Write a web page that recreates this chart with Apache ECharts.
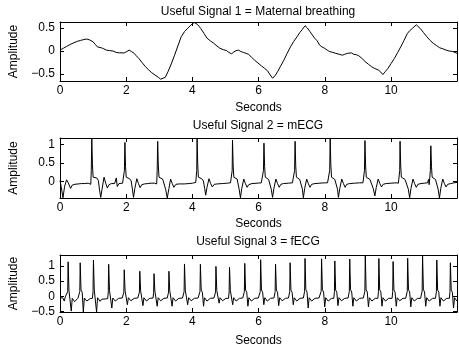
<!DOCTYPE html>
<html>
<head>
<meta charset="utf-8">
<script src="https://cdn.jsdelivr.net/npm/echarts@6/dist/echarts.min.js"></script>
<style>html,body{margin:0;padding:0;background:#fff}#c{width:459px;height:348px}</style>
</head>
<body>
<div id="c"></div>
<script>
const titles = ['Useful Signal 1 = Maternal breathing', 'Useful Signal 2 = mECG', 'Useful Signal 3 = fECG'];
const xTicks = [0, 2, 4, 6, 8, 10];
const yTicks1 = [-0.5, 0, 0.5];
const yTicks2 = [0, 0.5, 1];
const yTicks3 = [-0.5, 0, 0.5, 1];
const yRange1 = [-0.65, 0.63];
const yRange2 = [-0.436, 1.168];
const yRange3 = [-0.52, 1.355];

// [seconds, amplitude]
const breathing = [
[0.00,0.02],[0.10,0.06],[0.20,0.10],[0.30,0.14],[0.42,0.18],[0.52,0.21],[0.62,0.23],[0.72,0.25],[0.81,0.26],[0.90,0.24],
[1.00,0.20],[1.07,0.14],[1.13,0.09],[1.25,0.07],[1.32,0.05],[1.40,0.02],[1.50,0.01],[1.60,0.00],[1.70,-0.03],[1.80,-0.04],
[1.94,-0.04],[2.02,-0.01],[2.09,0.02],[2.16,-0.01],[2.24,-0.05],[2.30,-0.10],[2.38,-0.16],[2.48,-0.25],[2.58,-0.34],[2.68,-0.41],
[2.77,-0.47],[2.87,-0.52],[2.97,-0.57],[3.04,-0.61],[3.09,-0.65],[3.18,-0.57],[3.26,-0.45],[3.36,-0.28],[3.46,-0.09],[3.56,0.11],
[3.66,0.31],[3.76,0.42],[3.85,0.49],[3.95,0.56],[4.05,0.62],[4.08,0.63],[4.15,0.58],[4.25,0.49],[4.35,0.38],[4.44,0.28],
[4.54,0.22],[4.64,0.17],[4.74,0.11],[4.83,0.06],[4.93,0.03],[5.03,0.01],[5.10,-0.03],[5.18,-0.06],[5.25,-0.02],[5.32,0.01],
[5.39,0.02],[5.46,-0.01],[5.54,-0.03],[5.62,-0.05],[5.69,-0.07],[5.78,-0.13],[5.88,-0.20],[5.98,-0.26],[6.08,-0.32],[6.17,-0.37],
[6.27,-0.43],[6.35,-0.52],[6.42,-0.59],[6.50,-0.53],[6.57,-0.45],[6.66,-0.33],[6.76,-0.20],[6.86,-0.05],[6.96,0.09],[7.06,0.21],
[7.16,0.31],[7.24,0.40],[7.31,0.46],[7.40,0.55],[7.47,0.50],[7.55,0.42],[7.62,0.35],[7.69,0.28],[7.77,0.22],[7.84,0.13],
[7.91,0.09],[7.99,0.06],[8.07,0.02],[8.14,-0.01],[8.24,-0.03],[8.33,-0.05],[8.43,-0.07],[8.53,-0.09],[8.60,-0.07],[8.68,-0.05],
[8.74,-0.01],[8.80,-0.04],[8.87,-0.07],[8.95,-0.08],[9.02,-0.10],[9.12,-0.16],[9.22,-0.23],[9.32,-0.29],[9.41,-0.34],[9.51,-0.38],
[9.61,-0.41],[9.68,-0.45],[9.75,-0.51],[9.82,-0.45],[9.90,-0.38],[10.00,-0.27],[10.10,-0.16],[10.20,-0.03],[10.29,0.09],[10.39,0.23],
[10.49,0.38],[10.56,0.44],[10.64,0.49],[10.70,0.53],[10.76,0.57],[10.82,0.53],[10.88,0.49],[10.98,0.40],[11.08,0.31],[11.18,0.23],
[11.27,0.17],[11.37,0.12],[11.47,0.07],[11.56,0.05],[11.66,0.02],[11.76,0.00],[11.86,-0.01],[11.93,-0.03],[11.99,-0.05]
];

const mECG = [
[0.00,0.03],[0.04,-0.15],[0.09,-0.43],[0.10,-0.44],[0.14,-0.12],[0.20,0.05],[0.25,-0.03],[0.32,-0.18],[0.37,-0.09],[0.45,-0.07],
[0.55,-0.06],[0.65,-0.05],[0.75,-0.05],[0.85,-0.04],[0.90,-0.05],[0.93,-0.07],[0.945,0.3],[0.96,1.168],[0.98,0.45],[1.00,0.12],
[1.04,0.13],[1.11,0.10],[1.16,0.03],[1.19,-0.20],[1.23,-0.42],[1.27,-0.20],[1.33,0.12],[1.38,-0.04],[1.43,-0.17],[1.48,-0.08],
[1.55,-0.05],[1.65,-0.05],[1.70,0.10],[1.73,-0.13],[1.78,-0.05],[1.89,-0.04],[1.93,-0.06],[1.945,0.3],[1.96,1.05],[1.98,0.40],
[2.00,0.12],[2.05,0.11],[2.10,0.08],[2.15,0.02],[2.19,-0.22],[2.22,-0.42],[2.26,-0.18],[2.32,0.08],[2.37,-0.05],[2.42,-0.16],
[2.47,-0.08],[2.55,-0.06],[2.65,-0.05],[2.75,-0.04],[2.85,-0.04],[2.92,-0.06],[2.935,0.3],[2.95,1.08],[2.97,0.42],[2.99,0.12],
[3.04,0.11],[3.10,0.07],[3.15,0.02],[3.19,-0.20],[3.24,-0.436],[3.29,-0.18],[3.34,0.07],[3.39,-0.05],[3.44,-0.15],[3.50,-0.07],
[3.60,-0.06],[3.75,-0.06],[3.90,-0.05],[4.00,-0.04],[4.10,-0.02],[4.12,-0.05],[4.13,0.3],[4.14,1.16],[4.16,0.45],[4.18,0.12],
[4.23,0.11],[4.28,0.08],[4.33,0.02],[4.37,-0.18],[4.40,-0.36],[4.44,-0.15],[4.50,0.08],[4.55,-0.05],[4.60,-0.14],[4.66,-0.07],
[4.75,-0.06],[4.90,-0.05],[5.05,-0.04],[5.15,-0.03],[5.19,-0.05],[5.20,0.3],[5.21,1.11],[5.23,0.42],[5.25,0.12],[5.30,0.11],
[5.35,0.07],[5.39,0.02],[5.41,-0.20],[5.45,-0.43],[5.49,-0.18],[5.55,0.07],[5.60,-0.05],[5.65,-0.15],[5.70,-0.08],[5.80,-0.05],
[5.95,-0.04],[6.08,-0.03],[6.13,-0.05],[6.145,0.3],[6.16,1.03],[6.18,0.40],[6.20,0.12],[6.25,0.10],[6.30,0.06],[6.35,0.02],
[6.38,-0.20],[6.42,-0.42],[6.46,-0.18],[6.52,0.07],[6.57,-0.05],[6.62,-0.15],[6.67,-0.07],[6.75,-0.05],[6.90,-0.04],[7.02,-0.03],
[7.07,-0.05],[7.085,0.3],[7.10,1.08],[7.12,0.42],[7.14,0.12],[7.19,0.10],[7.24,0.06],[7.29,0.02],[7.32,-0.20],[7.35,-0.43],
[7.39,-0.18],[7.45,0.07],[7.50,-0.05],[7.55,-0.15],[7.60,-0.07],[7.70,-0.05],[7.85,-0.04],[8.00,-0.03],[8.08,-0.03],[8.13,-0.05],
[8.145,0.3],[8.16,1.168],[8.18,0.45],[8.20,0.12],[8.25,0.10],[8.30,0.06],[8.35,0.02],[8.38,-0.20],[8.41,-0.42],[8.45,-0.18],
[8.51,0.07],[8.56,-0.05],[8.61,-0.15],[8.66,-0.07],[8.75,-0.05],[8.90,-0.04],[9.05,-0.03],[9.15,-0.03],[9.18,-0.05],[9.195,0.3],
[9.21,1.10],[9.23,0.42],[9.25,0.12],[9.30,0.10],[9.36,0.06],[9.42,0.02],[9.46,-0.18],[9.51,-0.38],[9.55,-0.16],[9.61,0.07],
[9.66,-0.05],[9.71,-0.14],[9.76,-0.07],[9.85,-0.05],[10.00,-0.04],[10.15,-0.03],[10.22,-0.04],[10.25,-0.06],[10.26,0.3],[10.27,1.08],
[10.29,0.42],[10.31,0.12],[10.36,0.10],[10.42,0.06],[10.47,0.02],[10.52,-0.20],[10.56,-0.43],[10.60,-0.18],[10.66,0.07],[10.71,-0.05],
[10.76,-0.15],[10.81,-0.07],[10.90,-0.05],[11.00,-0.04],[11.10,-0.03],[11.13,0.06],[11.15,-0.08],[11.185,0.3],[11.20,0.96],[11.22,0.40],
[11.24,0.12],[11.29,0.10],[11.34,0.06],[11.39,0.02],[11.42,-0.20],[11.46,-0.436],[11.50,-0.18],[11.56,0.07],[11.61,-0.05],[11.66,-0.14],
[11.71,-0.07],[11.80,-0.05],[11.90,-0.03],[11.99,-0.02]
];

const fECG = [
[0.00,-0.06],[0.03,-0.09],[0.08,-0.05],[0.13,-0.16],[0.16,-0.02],[0.20,-0.07],
[0.215,-0.07],[0.233,0.15],[0.245,1.13],[0.27,0.19],[0.305,0.15],[0.34,-0.49],[0.37,-0.07],[0.40,-0.02],[0.44,-0.18],[0.49,-0.12],[0.54,-0.07],
[0.58,-0.08],[0.598,0.15],[0.61,1.10],[0.635,0.20],[0.67,0.13],[0.705,-0.52],[0.735,-0.06],[0.77,-0.03],[0.81,-0.16],[0.86,-0.11],[0.91,-0.08],[0.95,-0.10],
[0.98,-0.07],[0.998,0.15],[1.01,1.19],[1.035,0.20],[1.07,0.14],[1.105,-0.52],[1.135,-0.05],[1.17,-0.02],[1.21,-0.17],[1.26,-0.10],[1.31,-0.08],[1.37,-0.09],[1.42,-0.06],
[1.44,-0.08],[1.458,0.14],[1.47,1.05],[1.495,0.19],[1.53,0.13],[1.565,-0.39],[1.595,-0.06],[1.63,-0.01],[1.67,-0.16],[1.72,-0.11],[1.77,-0.07],[1.83,-0.09],[1.88,-0.06],
[1.91,-0.07],[1.928,0.13],[1.94,0.87],[1.965,0.18],[2.00,0.12],[2.035,-0.28],[2.065,-0.05],[2.10,-0.02],[2.14,-0.15],[2.19,-0.10],[2.24,-0.07],[2.30,-0.09],[2.35,-0.06],
[2.38,-0.07],[2.398,0.13],[2.41,0.82],[2.435,0.18],[2.47,0.12],[2.505,-0.31],[2.535,-0.05],[2.57,-0.01],[2.61,-0.16],[2.66,-0.10],[2.71,-0.07],[2.76,-0.08],
[2.81,-0.06],[2.828,0.12],[2.84,0.74],[2.865,0.17],[2.90,0.12],[2.935,-0.33],[2.965,-0.05],[3.00,-0.01],[3.04,-0.15],[3.09,-0.10],[3.14,-0.07],[3.20,-0.08],[3.24,-0.06],
[3.26,-0.07],[3.278,0.13],[3.29,0.82],[3.315,0.18],[3.35,0.12],[3.385,-0.33],[3.415,-0.05],[3.45,-0.02],[3.49,-0.16],[3.54,-0.10],[3.59,-0.07],[3.65,-0.09],[3.70,-0.06],
[3.73,-0.07],[3.748,0.15],[3.76,1.06],[3.785,0.19],[3.82,0.13],[3.855,-0.28],[3.885,-0.05],[3.92,-0.01],[3.96,-0.15],[4.01,-0.10],[4.06,-0.07],[4.12,-0.09],[4.17,-0.06],
[4.21,-0.07],[4.228,0.15],[4.24,1.05],[4.265,0.20],[4.30,0.13],[4.335,-0.33],[4.365,-0.05],[4.40,-0.02],[4.44,-0.16],[4.49,-0.10],[4.54,-0.07],[4.60,-0.09],[4.65,-0.06],
[4.68,-0.07],[4.698,0.14],[4.71,0.98],[4.735,0.19],[4.77,0.13],[4.805,-0.23],[4.835,-0.05],[4.87,-0.01],[4.91,-0.15],[4.96,-0.10],[5.01,-0.07],[5.06,-0.08],
[5.09,-0.07],[5.108,0.14],[5.12,0.95],[5.145,0.19],[5.18,0.13],[5.215,-0.28],[5.245,-0.05],[5.28,-0.02],[5.32,-0.16],[5.37,-0.10],[5.42,-0.07],[5.48,-0.09],[5.52,-0.06],
[5.55,-0.07],[5.568,0.15],[5.58,1.08],[5.605,0.20],[5.64,0.13],[5.675,-0.33],[5.705,-0.05],[5.74,-0.01],[5.78,-0.16],[5.83,-0.10],[5.88,-0.07],[5.94,-0.09],[5.99,-0.06],
[6.03,-0.07],[6.048,0.15],[6.06,1.20],[6.085,0.20],[6.12,0.13],[6.155,-0.28],[6.185,-0.05],[6.22,-0.02],[6.26,-0.16],[6.31,-0.10],[6.36,-0.07],[6.42,-0.09],[6.46,-0.06],
[6.48,-0.07],[6.498,0.15],[6.51,1.05],[6.535,0.20],[6.57,0.13],[6.605,-0.31],[6.635,-0.05],[6.67,-0.01],[6.71,-0.15],[6.76,-0.10],[6.81,-0.07],[6.87,-0.08],[6.90,-0.06],
[6.92,-0.07],[6.938,0.15],[6.95,1.10],[6.975,0.20],[7.01,0.13],[7.045,-0.28],[7.075,-0.05],[7.11,-0.02],[7.15,-0.16],[7.20,-0.10],[7.25,-0.07],[7.31,-0.09],[7.35,-0.06],
[7.37,-0.07],[7.388,0.16],[7.40,1.24],[7.425,0.21],[7.46,0.14],[7.495,-0.39],[7.525,-0.05],[7.56,-0.01],[7.60,-0.16],[7.65,-0.10],[7.70,-0.07],[7.76,-0.09],[7.82,-0.06],
[7.87,-0.07],[7.888,0.16],[7.90,1.23],[7.925,0.21],[7.96,0.14],[7.995,-0.35],[8.025,-0.05],[8.06,-0.02],[8.10,-0.16],[8.15,-0.10],[8.20,-0.07],[8.24,-0.08],
[8.27,-0.07],[8.288,0.15],[8.30,1.16],[8.325,0.20],[8.36,0.13],[8.395,-0.31],[8.425,-0.05],[8.46,-0.01],[8.50,-0.15],[8.55,-0.10],[8.60,-0.07],[8.66,-0.09],[8.70,-0.06],
[8.72,-0.07],[8.738,0.16],[8.75,1.22],[8.775,0.21],[8.81,0.14],[8.845,-0.33],[8.875,-0.05],[8.91,-0.02],[8.95,-0.16],[9.00,-0.10],[9.05,-0.07],[9.11,-0.09],[9.16,-0.06],
[9.19,-0.07],[9.208,0.16],[9.22,1.35],[9.245,0.21],[9.28,0.14],[9.315,-0.35],[9.345,-0.05],[9.38,-0.01],[9.42,-0.16],[9.47,-0.10],[9.52,-0.07],[9.57,-0.08],
[9.60,-0.07],[9.618,0.16],[9.63,1.24],[9.655,0.21],[9.69,0.14],[9.725,-0.33],[9.755,-0.05],[9.79,-0.02],[9.83,-0.16],[9.88,-0.10],[9.93,-0.07],[9.99,-0.08],
[10.03,-0.07],[10.048,0.15],[10.06,1.14],[10.085,0.20],[10.12,0.13],[10.155,-0.33],[10.185,-0.05],[10.22,-0.01],[10.26,-0.15],[10.31,-0.10],[10.36,-0.07],[10.42,-0.09],[10.44,-0.07],
[10.47,-0.07],[10.488,0.16],[10.50,1.25],[10.525,0.21],[10.56,0.14],[10.595,-0.35],[10.625,-0.05],[10.66,-0.02],[10.70,-0.16],[10.75,-0.10],[10.80,-0.07],[10.86,-0.09],[10.89,-0.07],
[10.92,-0.07],[10.938,0.17],[10.95,1.33],[10.975,0.21],[11.01,0.14],[11.045,-0.33],[11.075,-0.05],[11.11,-0.01],[11.15,-0.16],[11.20,-0.10],[11.25,-0.07],[11.31,-0.09],[11.34,-0.07],
[11.35,-0.07],[11.368,0.15],[11.38,1.19],[11.405,0.20],[11.44,0.13],[11.475,-0.33],[11.505,-0.05],[11.54,-0.02],[11.58,-0.16],[11.63,-0.10],[11.68,-0.07],[11.73,-0.08],
[11.76,-0.07],[11.778,0.15],[11.79,1.10],[11.815,0.20],[11.85,0.13],[11.885,-0.39],[11.915,-0.05],[11.95,-0.02],[11.99,-0.16]
];

const FONT = "'Liberation Sans', Arial, Helvetica, sans-serif";
const XMAX = 11.99;
const grids = [
  {left: 49, top: 22, width: 408, height: 59},
  {left: 49, top: 138, width: 408, height: 60},
  {left: 49, top: 255, width: 408, height: 59}
];
const titleTops = [1, 115, 231];
const xNameGaps = [21, 20, 23];
const yTicks = [yTicks1, yTicks2, yTicks3];
const yRanges = [yRange1, yRange2, yRange3];
const seriesData = [breathing, mECG, fECG];

const fmt = v => (v < 0 ? '\u2212' + String(Math.abs(v)) : String(v));
const lineAxis = {show: true, onZero: false, lineStyle: {color: '#000', width: 1}};

const option = {
  backgroundColor: '#fff',
  animation: false,
  textStyle: {fontFamily: FONT},
  title: titles.map((t, i) => ({
    text: t, left: 253, top: titleTops[i], textAlign: 'center',
    textStyle: {fontFamily: FONT, fontSize: 12, fontWeight: 'normal', color: '#000'}
  })),
  grid: grids,
  xAxis: [],
  yAxis: [],
  series: []
};

for (let i = 0; i < 3; i++) {
  option.xAxis.push({
    type: 'value', gridIndex: i, min: 0, max: XMAX, position: 'bottom',
    name: 'Seconds', nameLocation: 'middle', nameGap: xNameGaps[i],
    nameTextStyle: {fontFamily: FONT, fontSize: 12, color: '#000'},
    axisLine: lineAxis,
    axisTick: {show: true, inside: true, length: 4, lineStyle: {color: '#000'}, customValues: xTicks},
    axisLabel: {show: true, margin: 4, fontFamily: FONT, fontSize: 12, color: '#000', customValues: xTicks, formatter: fmt},
    splitLine: {show: false}
  });
  option.xAxis.push({
    type: 'value', gridIndex: i, min: 0, max: XMAX, position: 'top',
    axisLine: lineAxis,
    axisTick: {show: true, inside: true, length: 4, lineStyle: {color: '#000'}, customValues: xTicks},
    axisLabel: {show: false},
    splitLine: {show: false}
  });
  option.yAxis.push({
    type: 'value', gridIndex: i, min: yRanges[i][0], max: yRanges[i][1], position: 'left',
    name: 'Amplitude', nameLocation: 'middle', nameGap: 40,
    nameTextStyle: {fontFamily: FONT, fontSize: 12, color: '#000'},
    axisLine: lineAxis,
    axisTick: {show: true, inside: true, length: 4, lineStyle: {color: '#000'}, customValues: yTicks[i]},
    axisLabel: {show: true, margin: 5, fontFamily: FONT, fontSize: 12, color: '#000', customValues: yTicks[i], formatter: fmt},
    splitLine: {show: false}
  });
  option.yAxis.push({
    type: 'value', gridIndex: i, min: yRanges[i][0], max: yRanges[i][1], position: 'right',
    axisLine: lineAxis,
    axisTick: {show: true, inside: true, length: 4, lineStyle: {color: '#000'}, customValues: yTicks[i]},
    axisLabel: {show: false},
    splitLine: {show: false}
  });
  option.series.push({
    type: 'line', xAxisIndex: 2 * i, yAxisIndex: 2 * i,
    data: seriesData[i], showSymbol: false, symbol: 'none', clip: true,
    lineStyle: {color: '#000', width: 1}
  });
}

const chart = echarts.init(document.getElementById('c'), null, {renderer: 'canvas'});
chart.setOption(option);
</script>
</body>
</html>
